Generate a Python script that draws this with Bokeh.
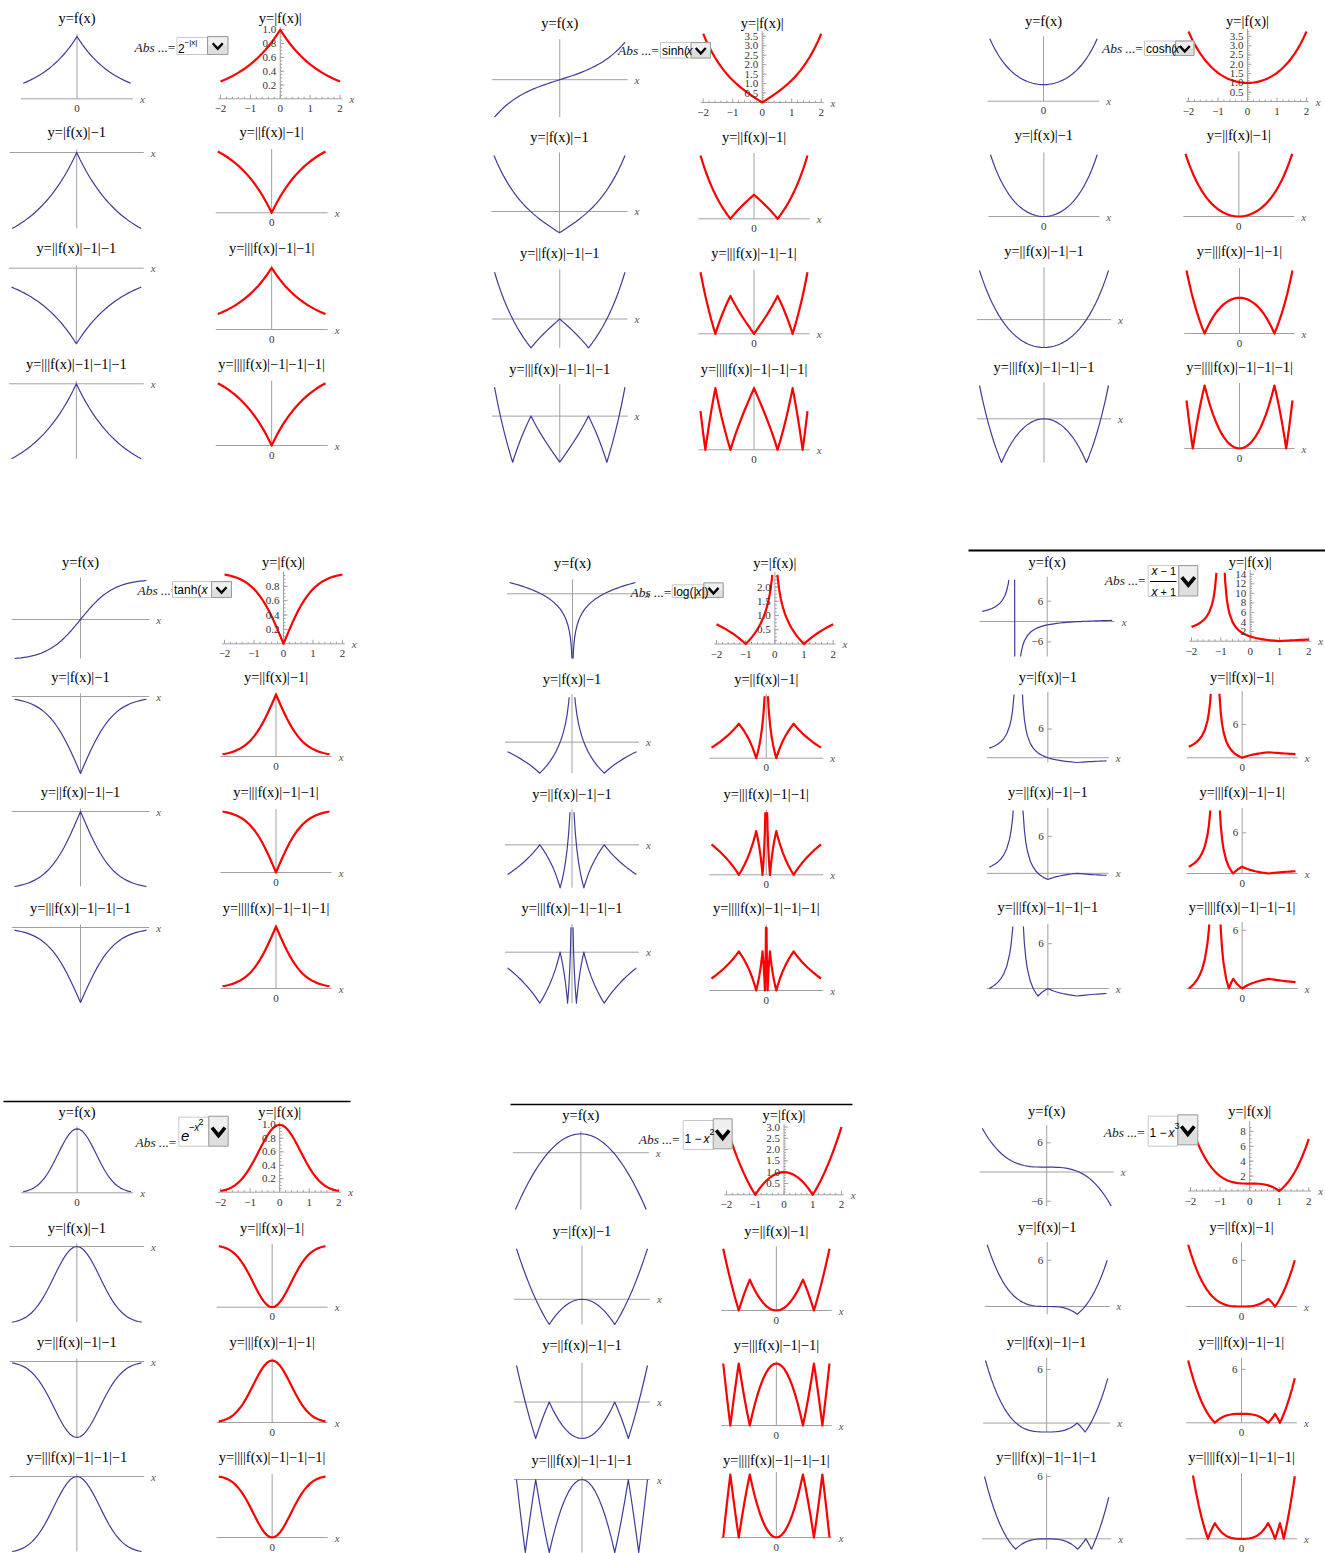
import math
import numpy as np
from bokeh.plotting import figure
from bokeh.models import Range1d
from bokeh.embed import file_html
from bokeh.resources import INLINE
from bokeh.core.properties import value

# ------------------------------------------------------------------ data
X = [-2.0, -1.9, -1.8, -1.7, -1.6, -1.5, -1.4, -1.3, -1.2, -1.1, -1.0,
     -0.9, -0.8, -0.7, -0.6, -0.5, -0.4, -0.3, -0.2, -0.1, 0.0,
     0.1, 0.2, 0.3, 0.4, 0.5, 0.6, 0.7, 0.8, 0.9, 1.0,
     1.1, 1.2, 1.3, 1.4, 1.5, 1.6, 1.7, 1.8, 1.9, 2.0]

F_POW2 = [0.250, 0.268, 0.287, 0.308, 0.330, 0.354, 0.379, 0.406, 0.435, 0.467, 0.500,
          0.536, 0.574, 0.616, 0.660, 0.707, 0.758, 0.812, 0.871, 0.933, 1.000,
          0.933, 0.871, 0.812, 0.758, 0.707, 0.660, 0.616, 0.574, 0.536, 0.500,
          0.467, 0.435, 0.406, 0.379, 0.354, 0.330, 0.308, 0.287, 0.268, 0.250]

F_SINH = [-3.627, -3.268, -2.942, -2.646, -2.376, -2.129, -1.904, -1.698, -1.509, -1.336, -1.175,
          -1.027, -0.888, -0.759, -0.637, -0.521, -0.411, -0.305, -0.201, -0.100, 0.000,
          0.100, 0.201, 0.305, 0.411, 0.521, 0.637, 0.759, 0.888, 1.027, 1.175,
          1.336, 1.509, 1.698, 1.904, 2.129, 2.376, 2.646, 2.942, 3.268, 3.627]

F_COSH = [3.762, 3.418, 3.107, 2.828, 2.577, 2.352, 2.151, 1.971, 1.811, 1.669, 1.543,
          1.433, 1.337, 1.255, 1.185, 1.128, 1.081, 1.045, 1.020, 1.005, 1.000,
          1.005, 1.020, 1.045, 1.081, 1.128, 1.185, 1.255, 1.337, 1.433, 1.543,
          1.669, 1.811, 1.971, 2.151, 2.352, 2.577, 2.828, 3.107, 3.418, 3.762]

F_TANH = [-0.964, -0.956, -0.947, -0.935, -0.922, -0.905, -0.885, -0.862, -0.834, -0.800, -0.762,
          -0.716, -0.664, -0.604, -0.537, -0.462, -0.380, -0.291, -0.197, -0.100, 0.000,
          0.100, 0.197, 0.291, 0.380, 0.462, 0.537, 0.604, 0.664, 0.716, 0.762,
          0.800, 0.834, 0.862, 0.885, 0.905, 0.922, 0.935, 0.947, 0.956, 0.964]

X_LOG = [-2.0, -1.9, -1.8, -1.7, -1.6, -1.5, -1.4, -1.3, -1.2, -1.1, -1.0,
         -0.9, -0.8, -0.7, -0.6, -0.5, -0.4, -0.35, -0.3, -0.25, -0.2, -0.15, -0.1,
         -0.07, -0.05, -0.03, -0.02, -0.01,
         0.01, 0.02, 0.03, 0.05, 0.07,
         0.1, 0.15, 0.2, 0.25, 0.3, 0.35, 0.4, 0.5, 0.6, 0.7, 0.8, 0.9, 1.0,
         1.1, 1.2, 1.3, 1.4, 1.5, 1.6, 1.7, 1.8, 1.9, 2.0]
F_LOG = [0.693, 0.642, 0.588, 0.531, 0.470, 0.405, 0.336, 0.262, 0.182, 0.095, 0.000,
         -0.105, -0.223, -0.357, -0.511, -0.693, -0.916, -1.050, -1.204, -1.386, -1.609, -1.897, -2.303,
         -2.659, -2.996, -3.507, -3.912, -4.605,
         -4.605, -3.912, -3.507, -2.996, -2.659,
         -2.303, -1.897, -1.609, -1.386, -1.204, -1.050, -0.916, -0.693, -0.511, -0.357, -0.223, -0.105, 0.000,
         0.095, 0.182, 0.262, 0.336, 0.405, 0.470, 0.531, 0.588, 0.642, 0.693]

X_MOB = [-2.0, -1.9, -1.8, -1.7, -1.6, -1.5, -1.4, -1.3, -1.25, -1.2, -1.15, -1.1, -1.05, -1.02,
         -0.98, -0.95, -0.9, -0.85, -0.8, -0.75, -0.7, -0.6, -0.5, -0.4, -0.3, -0.2, -0.1, 0.0,
         0.1, 0.2, 0.3, 0.4, 0.5, 0.6, 0.7, 0.8, 0.9, 1.0,
         1.1, 1.2, 1.3, 1.4, 1.5, 1.6, 1.7, 1.8, 1.9, 2.0]
F_MOB = [3.000, 3.222, 3.500, 3.857, 4.333, 5.000, 6.000, 7.667, 9.000, 11.000, 14.333, 21.000, 41.000, 101.000,
         -99.000, -39.000, -19.000, -12.333, -9.000, -7.000, -5.667, -4.000, -3.000, -2.333, -1.857, -1.500, -1.222, -1.000,
         -0.818, -0.667, -0.538, -0.429, -0.333, -0.250, -0.176, -0.111, -0.053, 0.000,
         0.048, 0.091, 0.130, 0.167, 0.200, 0.231, 0.259, 0.286, 0.310, 0.333]

F_GAUSS = [0.018, 0.027, 0.039, 0.056, 0.077, 0.105, 0.141, 0.185, 0.237, 0.298, 0.368,
           0.445, 0.527, 0.613, 0.698, 0.779, 0.852, 0.914, 0.961, 0.990, 1.000,
           0.990, 0.961, 0.914, 0.852, 0.779, 0.698, 0.613, 0.527, 0.445, 0.368,
           0.298, 0.237, 0.185, 0.141, 0.105, 0.077, 0.056, 0.039, 0.027, 0.018]

F_PARAB = [-3.00, -2.61, -2.24, -1.89, -1.56, -1.25, -0.96, -0.69, -0.44, -0.21, 0.00,
           0.19, 0.36, 0.51, 0.64, 0.75, 0.84, 0.91, 0.96, 0.99, 1.00,
           0.99, 0.96, 0.91, 0.84, 0.75, 0.64, 0.51, 0.36, 0.19, 0.00,
           -0.21, -0.44, -0.69, -0.96, -1.25, -1.56, -1.89, -2.24, -2.61, -3.00]

F_CUBIC = [9.000, 7.859, 6.832, 5.913, 5.096, 4.375, 3.744, 3.197, 2.728, 2.331, 2.000,
           1.729, 1.512, 1.343, 1.216, 1.125, 1.064, 1.027, 1.008, 1.001, 1.000,
           0.999, 0.992, 0.973, 0.936, 0.875, 0.784, 0.657, 0.488, 0.271, 0.000,
           -0.331, -0.728, -1.197, -1.744, -2.375, -3.096, -3.913, -4.832, -5.859, -7.000]

TITLES = ["y=f(x)", "y=|f(x)|", "y=|f(x)|\u22121", "y=||f(x)|\u22121|",
          "y=||f(x)|\u22121|\u22121", "y=|||f(x)|\u22121|\u22121|",
          "y=|||f(x)|\u22121|\u22121|\u22121", "y=||||f(x)|\u22121|\u22121|\u22121|"]
XTICKS = [-2, -1, 0, 1, 2]
XTICK_LABELS = ["\u22122", "\u22121", "0", "1", "2"]
YT_POW2 = [0.2, 0.4, 0.6, 0.8, 1.0]
YT_SINH = [0.5, 1.0, 1.5, 2.0, 2.5, 3.0, 3.5]
YT_COSH = [0.5, 1.0, 1.5, 2.0, 2.5, 3.0, 3.5]
YT_TANH = [0.2, 0.4, 0.6, 0.8]
YT_LOG = [0.5, 1.0, 1.5, 2.0]
YT_MOB = [2, 4, 6, 8, 10, 12, 14]
YT_GAUSS = [0.2, 0.4, 0.6, 0.8, 1.0]
YT_PARAB = [0.5, 1.0, 1.5, 2.0, 2.5, 3.0]
YT_CUBIC = [2, 4, 6, 8]
SIDE_TICKS = [-6, 6]

# ------------------------------------------------------------------ layout
# boxes: (page x of x=-2, page x of x=2, page y top, page y bottom, y low, y high)
PANELS = [
    dict(x=X, f=F_POW2, ty=[17, 131, 247, 363], yt=YT_POW2, side=False,
         blue=[(22.7, 130.3, 36, 98.3, 0, 1), (11.7, 140.7, 152, 228, -0.75, 0),
               (11, 140.7, 267.7, 343.3, -1, 0), (11, 140.7, 383.3, 458.3, -0.75, 0)],
         red=[(220, 339.5, 29.3, 98.3, 0, 1), (217.3, 325, 151, 212.3, 0, 0.75),
              (217.3, 325, 267.3, 329, 0, 1), (217.3, 325, 382.7, 445, 0, 0.75)],
         dd=dict(abs=(134, 47), box=(176.5, 207, 37, 54), btn=(207, 227.5, 36, 54), big=False,
                 parts=[("2", 177.5, 48, 12, "normal"), ("\u2212|x|", 184, 42, 8, "normal")])),
    dict(x=X, f=F_SINH, ty=[22, 136, 252, 368], yt=YT_SINH, side=False,
         blue=[(494, 624.5, 41.7, 116.7, -3.627, 3.627), (493.5, 624.5, 155, 232.3, -1, 2.627),
               (494, 624.5, 271.7, 347.3, -1, 1.627), (494, 624.5, 386.7, 461.7, -1, 0.627)],
         red=[(702.7, 820.7, 33.3, 102, 0, 3.627), (700, 807, 155, 218.3, 0, 2.627),
              (700, 807, 271.7, 333.3, 0, 1.627), (700, 807, 387.7, 449.3, 0, 1)],
         dd=dict(abs=(617.5, 50), box=(660, 710, 42, 57.5), btn=(690.5, 710, 42, 57.5), big=False,
                 parts=[("sinh(", 661.5, 50, 12, "normal"), ("x", 686, 50, 12, "italic")])),
    dict(x=X, f=F_COSH, ty=[20, 134, 250, 366], yt=YT_COSH, side=False,
         blue=[(989.3, 1096.7, 38.3, 100.7, 0, 3.762), (990, 1096.7, 154.3, 216, 0, 2.762),
               (979, 1108, 270, 347, -1, 1.762), (979, 1108, 385, 462, -1, 0.762)],
         red=[(1188, 1306, 31, 101, 0, 3.762), (1185, 1291.7, 153.3, 216, 0, 2.762),
              (1186, 1292, 270, 333, 0, 1.762), (1186, 1292, 385, 448, 0, 1)],
         dd=dict(abs=(1101.5, 47.5), box=(1144, 1193.5, 40.5, 55), btn=(1175, 1193.5, 40.5, 55), big=False,
                 parts=[("cosh(", 1145.5, 48, 12, "normal"), ("x", 1173, 48, 12, "italic")])),
    dict(x=X, f=F_TANH, ty=[561, 676, 791, 907], yt=YT_TANH, side=False,
         blue=[(14, 146, 580, 658, -0.964, 0.964), (14, 146, 696, 773, -1, 0),
               (14, 146, 811, 886, -0.964, 0), (14, 146, 927, 1002, -1, 0)],
         red=[(224, 342, 574, 643.3, 0, 0.964), (222, 329, 694, 756, 0, 1),
              (222, 329, 811, 872, 0, 0.964), (222, 329, 926, 988, 0, 1)],
         dd=dict(abs=(137, 589.5), box=(172, 231, 581, 597), btn=(211, 231, 581, 597), big=False,
                 parts=[("tanh(", 173.5, 589.5, 12, "normal"), ("x", 201, 589.5, 12, "italic")])),
    dict(x=X_LOG, f=F_LOG, ty=[562, 678, 793, 907], yt=YT_LOG, side=False,
         blue=[(509, 635, 582, 658, -3.97, 0.693), (507, 636, 696.7, 772.7, -1, 1.45),
               (507, 636, 811.7, 887.3, -1, 0.76), (507, 636, 926.7, 1002.7, -1, 0.49)],
         red=[(716, 832.7, 574.3, 643.5, 0, 2.43), (711, 820.5, 695.7, 757.7, 0, 1.8),
              (711, 820.5, 811.7, 874.3, 0, 1.43), (711, 820.5, 926.7, 990, 0, 1.62)],
         dd=dict(abs=(630, 591.5), box=(671.7, 722.7, 584.3, 597), btn=(703.3, 722.7, 582.3, 597), big=False,
                 parts=[("log(|", 673, 591, 12, "normal"), ("x", 695, 591, 12, "italic"),
                        ("|)", 701, 591, 12, "normal")])),
    dict(x=X_MOB, f=F_MOB, ty=[561, 676, 791, 906], yt=YT_MOB, side=True,
         blue=[(981.7, 1111.7, 579.3, 656, -10.3, 12.3), (988.7, 1106, 694, 762, -1, 13.2),
               (988.7, 1106, 810, 879, -1, 10.2), (988.7, 1106, 926, 995.5, -1, 8.3)],
         red=[(1191, 1308.3, 572.3, 640.7, 0, 14.3), (1188.3, 1295, 693.3, 757.3, 0, 11.5),
              (1188.3, 1295, 810, 873, 0, 9.3), (1188.3, 1295, 924, 988, 0, 6.6)],
         dd=dict(abs=(1104.3, 580), box=(1147.7, 1178.3, 565, 596), btn=(1178.3, 1197.3, 565, 595.5), big=True,
                 parts=[("x", 1151, 570.5, 12, "italic"), ("\u2212 1", 1160, 570.5, 11, "normal"),
                        ("x", 1151, 591.5, 12, "italic"), ("+ 1", 1160, 591.5, 11, "normal")],
                 frac=(1149.5, 1176, 581))),
    dict(x=X, f=F_GAUSS, ty=[1111, 1227, 1341, 1456], yt=YT_GAUSS, side=False,
         blue=[(22.7, 130.5, 1128.3, 1192.3, 0, 1), (11.7, 141, 1246, 1321.7, -0.982, 0),
               (11.7, 141, 1361, 1437, -1, 0), (11.7, 141, 1476, 1551, -0.982, 0)],
         red=[(220, 338.3, 1124.3, 1191.7, 0, 1), (218.3, 325, 1245.7, 1306.7, 0, 0.982),
              (218.3, 325, 1360, 1422, 0, 1), (218.3, 325, 1476, 1537, 0, 0.982)],
         dd=dict(abs=(135, 1141.7), box=(178.3, 208.3, 1116.7, 1145.7), btn=(208.3, 227.7, 1115.7, 1145.7), big=True,
                 parts=[("e", 180.5, 1135, 15, "italic"), ("\u2212x", 188, 1127, 10, "italic"),
                        ("2", 198, 1121, 9, "normal")])),
    dict(x=X, f=F_PARAB, ty=[1114, 1230, 1344, 1459], yt=YT_PARAB, side=False,
         blue=[(515, 645.7, 1133.3, 1209, -3, 1), (516, 647, 1248.3, 1324, -1, 2),
               (516, 647, 1365, 1438, -1, 1), (516, 647, 1479, 1552, -1, 0)],
         red=[(726, 841, 1126.5, 1194.3, 0, 3), (722.7, 829, 1248.3, 1310, 0, 2),
              (722.7, 829, 1363, 1425, 0, 1), (722.7, 829, 1474, 1537, 0, 1)],
         dd=dict(abs=(638.3, 1138.5), box=(682.7, 713.3, 1120, 1149), btn=(712.7, 731.7, 1118.3, 1148.3), big=True,
                 parts=[("1 \u2212 ", 684, 1138.5, 12, "normal"), ("x", 703, 1138.5, 12, "italic"),
                        ("2", 709, 1131, 9, "normal")])),
    dict(x=X, f=F_CUBIC, ty=[1110, 1226, 1341, 1456], yt=YT_CUBIC, side=True,
         blue=[(981.7, 1110.7, 1127.7, 1205.6, -7, 9), (986.7, 1106.7, 1244.3, 1313.7, -1, 8),
               (985, 1107.3, 1360, 1431.5, -1, 7), (984, 1108.3, 1476, 1548.7, -1, 6)],
         red=[(1190, 1308.3, 1123.4, 1190.5, 0, 9), (1187.7, 1294.3, 1244.3, 1306, 0, 8),
              (1187.7, 1294.3, 1360, 1422.3, 0, 7), (1187.7, 1294.3, 1475, 1538.3, 0, 4.05)],
         dd=dict(abs=(1103.3, 1132.3), box=(1147.7, 1177.3, 1115.7, 1145.7), btn=(1177.3, 1197.3, 1114.3, 1144.3), big=True,
                 parts=[("1 \u2212 ", 1149, 1132.5, 12, "normal"), ("x", 1168, 1132.5, 12, "italic"),
                        ("3", 1174, 1125, 9, "normal")])),
]
RULES = [(968, 1325, 550, 2.0), (3, 350, 1101, 1.4), (510, 852, 1104, 1.4)]

# ------------------------------------------------------------------ figure
W, H = 1325, 1553
OX, OY = 0, 0
SERIF = value("Liberation Serif")
SANS = value("Liberation Sans")
BLUE, RED, AXIS = "#3d3d99", "#ff0000", "#a0a0a0"

p = figure(width=W, height=H, x_range=Range1d(OX, OX + W), y_range=Range1d(OY + H, OY),
           x_axis_type=None, y_axis_type=None, toolbar_location=None, min_border=0,
           outline_line_color=None, output_backend="svg",
           background_fill_color="white", border_fill_color="white")

EXR, EYR = {}, {}


def sub_ranges(box):
    xl, xr, yt, yb, ylo, yhi = box
    s = 4.0 / (xr - xl)
    t = (yhi - ylo) / (yb - yt)
    k = "s%d" % len(EXR)
    EXR[k] = Range1d(start=-2 + (OX - xl) * s, end=-2 + (OX + W - xl) * s)
    EYR[k] = Range1d(start=ylo + (yb - (OY + H)) * t, end=ylo + (yb - OY) * t)
    return k


def abs_curve(xs, ys):
    ox, oy = [xs[0]], [abs(ys[0])]
    for i in range(1, len(xs)):
        x0, y0, x1, y1 = xs[i - 1], ys[i - 1], xs[i], ys[i]
        if y0 * y1 < 0 and abs(y1 - y0) < 50:
            ox.append(x0 + (x1 - x0) * (-y0) / (y1 - y0))
            oy.append(0.0)
        ox.append(x1)
        oy.append(abs(y1))
    return ox, oy


def clip_band(xs, ys, lo, hi):
    ox, oy = [], []
    last_end = None
    for i in range(1, len(xs)):
        x0, y0, x1, y1 = xs[i - 1], ys[i - 1], xs[i], ys[i]
        dy = y1 - y0
        if dy == 0:
            if lo <= y0 <= hi:
                ta, tb = 0.0, 1.0
            else:
                last_end = None
                continue
        else:
            a, b = (lo - y0) / dy, (hi - y0) / dy
            ta, tb = max(0.0, min(a, b)), min(1.0, max(a, b))
            if ta > tb:
                last_end = None
                continue
        ax, ay = x0 + ta * (x1 - x0), y0 + ta * dy
        bx, by = x0 + tb * (x1 - x0), y0 + tb * dy
        if last_end == i - 1 and ta == 0.0:
            ox.append(bx); oy.append(by)
        else:
            if ox:
                ox.append(np.nan); oy.append(np.nan)
            ox += [ax, bx]; oy += [ay, by]
        last_end = i if tb == 1.0 else None
    return np.array(ox, dtype=float), np.array(oy, dtype=float)


def tick_labels(vals):
    if all(isinstance(v, int) for v in vals):
        return [str(v) for v in vals]
    return ["%.1f" % v for v in vals]


XPAD = 0.08


def draw_plot(box, xs, ys, color, lw, full_ticks=None, side=False):
    xl, xr, yt, yb, ylo, yhi = box
    k = sub_ranges(box)
    kw = dict(x_range_name=k, y_range_name=k)
    pxu = (xr - xl) / 4.0
    pyu = (yb - yt) / (yhi - ylo)
    # axes
    p.line([-2 - XPAD, 2 + XPAD], [0, 0], line_color=AXIS, line_width=1, **kw)
    p.line([0, 0], [ylo, yhi + 0.04 * (yhi - ylo)], line_color=AXIS, line_width=1, **kw)
    # ticks
    if full_ticks is not None:
        minor_x = [i / 5.0 for i in range(-10, 11) if i % 5 != 0]
        p.segment(x0=XTICKS, y0=[0] * 5, x1=XTICKS, y1=[4.0 / pyu] * 5, line_color=AXIS, **kw)
        p.segment(x0=minor_x, y0=[0] * len(minor_x), x1=minor_x, y1=[2.0 / pyu] * len(minor_x),
                  line_color=AXIS, **kw)
        step = full_ticks[1] - full_ticks[0]
        minor_y = []
        v = step / 4.0
        while v < yhi:
            minor_y.append(v)
            v += step / 4.0
        p.segment(x0=[0] * len(full_ticks), y0=full_ticks, x1=[4.0 / pxu] * len(full_ticks), y1=full_ticks,
                  line_color=AXIS, **kw)
        p.segment(x0=[0] * len(minor_y), y0=minor_y, x1=[2.0 / pxu] * len(minor_y), y1=minor_y,
                  line_color=AXIS, **kw)
    # curve
    eps = 1e-6 * (yhi - ylo)
    cx, cy = clip_band(xs, ys, ylo - eps, yhi + eps)
    p.line(cx, cy, line_color=color, line_width=lw, line_join="round", **kw)
    # labels
    p.text(x=[2 + XPAD], y=[0], text=["x"], x_offset=7, text_align="left", text_baseline="middle",
           text_font=SERIF, text_font_style="italic", text_font_size="11px", text_color="#555555", **kw)
    if full_ticks is not None:
        p.text(x=XTICKS, y=[0] * 5, text=XTICK_LABELS, y_offset=10, text_align="center",
               text_baseline="middle", text_font=SERIF, text_font_size="11px", text_color="#333333", **kw)
        p.text(x=[0] * len(full_ticks), y=full_ticks, text=tick_labels(full_ticks), x_offset=-4,
               text_align="right", text_baseline="middle", text_font=SERIF, text_font_size="11px",
               text_color="#333333", **kw)
    else:
        if ylo == 0:
            p.text(x=[0], y=[0], text=["0"], y_offset=9.5, text_align="center", text_baseline="middle",
                   text_font=SERIF, text_font_size="11px", text_color="#333333", **kw)
        if side:
            sv = [v for v in SIDE_TICKS if ylo <= v <= yhi]
            if sv:
                p.segment(x0=[0] * len(sv), y0=sv, x1=[4.0 / pxu] * len(sv), y1=sv, line_color=AXIS, **kw)
                p.text(x=[0] * len(sv), y=sv, text=[str(v).replace("-", "\u2212") for v in sv], x_offset=-4,
                       text_align="right", text_baseline="middle", text_font=SERIF, text_font_size="11px",
                       text_color="#333333", **kw)


for P in PANELS:
    bx, by = list(P["x"]), list(P["f"])
    for r in range(4):
        rx, ry = abs_curve(bx, by)
        bbox, rbox = P["blue"][r], P["red"][r]
        draw_plot(bbox, bx, by, BLUE, 1.2, side=P["side"])
        draw_plot(rbox, rx, ry, RED, 2.2, full_ticks=(P["yt"] if r == 0 else None), side=P["side"])
        p.text(x=[(bbox[0] + bbox[1]) / 2.0, (rbox[0] + rbox[1]) / 2.0], y=[P["ty"][r]] * 2,
               text=[TITLES[2 * r], TITLES[2 * r + 1]], text_align="center", text_baseline="middle",
               text_font=SERIF, text_font_size="14.5px", text_color="black")
        bx, by = rx, [v - 1 for v in ry]

    # dropdown control
    d = P["dd"]
    ax, ay = d["abs"]
    p.text(x=[ax], y=[ay], text=["Abs"], text_align="left", text_baseline="middle", text_font=SERIF,
           text_font_style="italic", text_font_size="13.5px", text_color="#222222")
    p.text(x=[ax + 23], y=[ay], text=["...="], text_align="left", text_baseline="middle", text_font=SERIF,
           text_font_size="13.5px", text_color="#222222")
    l, r_, t, b = d["box"]
    p.quad(left=[l], right=[r_], top=[t], bottom=[b], fill_color="white", line_color="#c8c8c8", line_width=1)
    l2, r2, t2, b2 = d["btn"]
    p.quad(left=[l2], right=[r2], top=[t2], bottom=[b2], fill_color="#dedede", line_color="#9c9c9c", line_width=1)
    p.quad(left=[l2 + 1], right=[r2 - 1], top=[t2 + 1], bottom=[(t2 + b2) / 2.0], fill_color="#efefef",
           line_color=None)
    cxm, cym = (l2 + r2) / 2.0, (t2 + b2) / 2.0
    hw, hh, lw = (6.5, 4.0, 3.6) if d["big"] else (5.0, 2.8, 2.4)
    p.line([cxm - hw, cxm, cxm + hw], [cym - hh + 0.5, cym + hh + 0.5, cym - hh + 0.5], line_color="black",
           line_width=lw, line_join="miter")
    for (txt, tx, tyy, fs, st) in d["parts"]:
        p.text(x=[tx], y=[tyy], text=[txt], text_align="left", text_baseline="middle", text_font=SANS,
               text_font_style=st, text_font_size="%dpx" % fs, text_color="black")
    if "frac" in d:
        f0, f1, fy = d["frac"]
        p.line([f0, f1], [fy, fy], line_color="black", line_width=1)

for (x0, x1, yy, w) in RULES:
    p.line([x0, x1], [yy, yy], line_color="black", line_width=w)

p.extra_x_ranges = EXR
p.extra_y_ranges = EYR

open("out.html", "w").write(file_html(p, INLINE))
